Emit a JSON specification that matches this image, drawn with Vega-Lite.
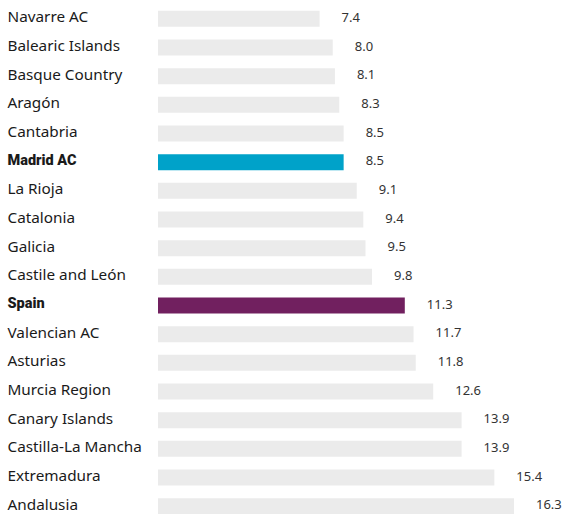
{
  "$schema": "https://vega.github.io/schema/vega-lite/v6.json",
  "width": 356,
  "height": 516,
  "autosize": {"type": "none"},
  "padding": {"left": 158, "top": 4.5, "right": 49, "bottom": 0},
  "background": "white",
  "data": {"values": [
    {"region": "Navarre AC", "value": 7.4, "type": "other"},
    {"region": "Balearic Islands", "value": 8.0, "type": "other"},
    {"region": "Basque Country", "value": 8.1, "type": "other"},
    {"region": "Aragón", "value": 8.3, "type": "other"},
    {"region": "Cantabria", "value": 8.5, "type": "other"},
    {"region": "Madrid AC", "value": 8.5, "type": "madrid"},
    {"region": "La Rioja", "value": 9.1, "type": "other"},
    {"region": "Catalonia", "value": 9.4, "type": "other"},
    {"region": "Galicia", "value": 9.5, "type": "other"},
    {"region": "Castile and León", "value": 9.8, "type": "other"},
    {"region": "Spain", "value": 11.3, "type": "spain"},
    {"region": "Valencian AC", "value": 11.7, "type": "other"},
    {"region": "Asturias", "value": 11.8, "type": "other"},
    {"region": "Murcia Region", "value": 12.6, "type": "other"},
    {"region": "Canary Islands", "value": 13.9, "type": "other"},
    {"region": "Castilla-La Mancha", "value": 13.9, "type": "other"},
    {"region": "Extremadura", "value": 15.4, "type": "other"},
    {"region": "Andalusia", "value": 16.3, "type": "other"}
  ]},
  "config": {"view": {"stroke": null}, "font": "Noto Sans"},
  "encoding": {
    "y": {
      "field": "region", "type": "nominal", "sort": null,
      "scale": {"paddingInner": 0.44, "paddingOuter": 0.22},
      "axis": {
        "title": null, "domain": false, "ticks": false,
        "labelAlign": "left", "labelPadding": 151, "labelOffset": -1.5,
        "labelFontSize": {"condition": {"test": "datum.value === 'Spain' || datum.value === 'Madrid AC'", "value": 14.5}, "value": 15.3},
        "labelColor": "#1a1a1a",
        "labelFont": {"condition": {"test": "datum.value === 'Spain' || datum.value === 'Madrid AC'", "value": "Roboto"}, "value": "Noto Sans"},
        "labelFontWeight": {"condition": {"test": "datum.value === 'Spain' || datum.value === 'Madrid AC'", "value": 900}, "value": "normal"},
        "labelLimit": 200
      }
    },
    "x": {
      "field": "value", "type": "quantitative",
      "scale": {"domain": [0, 16.3], "nice": false, "zero": true},
      "axis": null
    }
  },
  "layer": [
    {
      "mark": {"type": "bar"},
      "encoding": {
        "color": {
          "field": "type", "type": "nominal",
          "scale": {"domain": ["other", "madrid", "spain"], "range": ["#ebebeb", "#00a2c9", "#71205f"]},
          "legend": null
        }
      }
    },
    {
      "mark": {"type": "text", "align": "left", "baseline": "middle", "dx": 22, "dy": -1, "fontSize": 13, "color": "#333333"},
      "encoding": {
        "text": {"field": "value", "type": "quantitative", "format": ".1f"}
      }
    }
  ]
}
